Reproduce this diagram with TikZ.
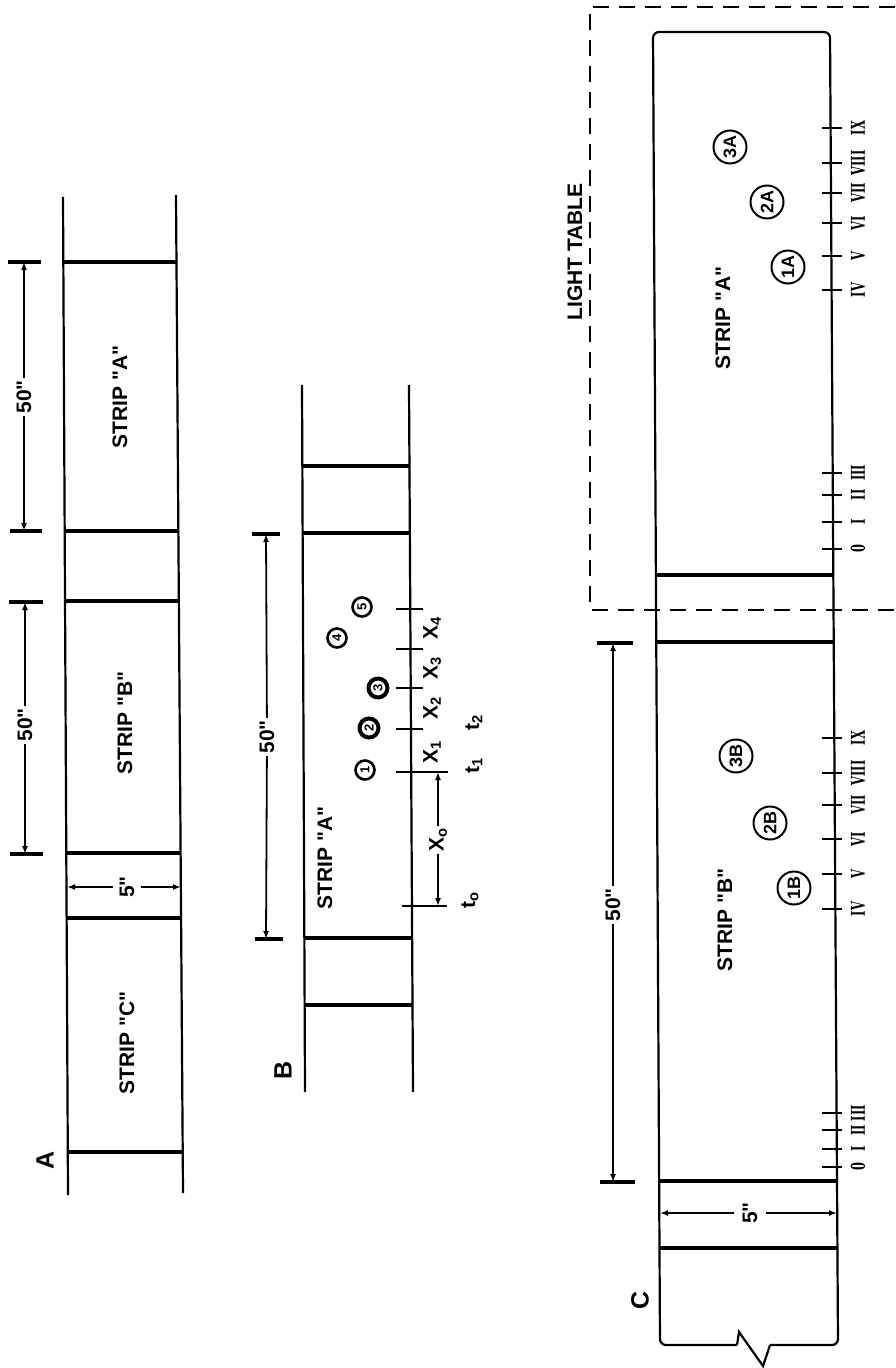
\documentclass[tikz,border=0pt]{standalone}
\usepackage{fontspec}
\newfontfamily\lblfont{Liberation Sans}
\newfontfamily\romfont{DejaVu Serif}
\usetikzlibrary{arrows.meta}
\tikzset{
  stripline/.style={line width=1.1pt},
  barline/.style={line width=1.8pt},
  dimline/.style={line width=0.9pt},
  dimtip/.style={dimline,-{Latex[length=4pt,width=3pt]}},
  tickline/.style={line width=1.2pt},
  dashbox/.style={line width=1.2pt, dash pattern=on 8pt off 5pt},
  rotlbl/.style={rotate=90, inner sep=1.5pt, font=\lblfont\bfseries\fontsize{10.5}{13}\selectfont},
  biglbl/.style={rotate=90, inner sep=1pt, font=\lblfont\bfseries\fontsize{12.5}{14}\selectfont},
  smalllbl/.style={rotate=90, inner sep=1pt, font=\lblfont\bfseries\fontsize{10.5}{12}\selectfont},
  circA/.style={draw, circle, line width=1pt, minimum size=16.5pt, inner sep=0pt, rotate=90,
     font=\lblfont\bfseries\fontsize{9}{10}\selectfont},
  circB/.style={draw, circle, line width=1.3pt, minimum size=9.5pt, inner sep=0pt, rotate=90,
     font=\lblfont\bfseries\fontsize{6.5}{8}\selectfont},
  romanlbl/.style={rotate=90, inner sep=0pt, font=\romfont\bfseries\fontsize{9.5}{10}\selectfont},
}
\begin{document}
\begin{tikzpicture}[x=0.5pt,y=-0.5pt]
\useasboundingbox (0,0) rectangle (895,1368);

% ================= A =================
\coordinate (aL1) at (63,197);  \coordinate (aL2) at (68,1195);
\coordinate (aR1) at (176,195); \coordinate (aR2) at (183,1193);
\draw[stripline] (aL1) -- (aL2);
\draw[stripline] (aR1) -- (aR2);
\foreach \y/\l/\r in {262/63.3/176.5, 531/64.7/178.4, 601/65.0/178.8, 853/66.3/180.6, 918/66.6/181.1, 1152/67.8/182.7}
  \draw[barline] (\l,\y) -- (\r,\y);

\node[rotlbl] (stA) at (120,397) {STRIP "A"};
\node[rotlbl] (stB) at (125,723) {STRIP "B"};
\node[rotlbl] (stC) at (127,1043) {STRIP "C"};
\node[biglbl] (labA) at (45,1160) {A};

% 50" dimensions
\coordinate (d1t) at (24,262); \coordinate (d1b) at (24,531);
\draw[barline] (8,262) -- (41,262);
\draw[barline] (10,531) -- (42,531);
\node[smalllbl] (d1) at (24,397) {50"};
\draw[dimtip] (d1) -- (d1t);
\draw[dimtip] (d1) -- (d1b);

\coordinate (d2t) at (25,602); \coordinate (d2b) at (25,854);
\draw[barline] (9,602) -- (43,602);
\draw[barline] (10,854) -- (43,854);
\node[smalllbl] (d2) at (25,725) {50"};
\draw[dimtip] (d2) -- (d2t);
\draw[dimtip] (d2) -- (d2b);

% 5" dimension
\coordinate (f1l) at (67,887); \coordinate (f1r) at (181,887);
\node[smalllbl, inner sep=3pt] (f1) at (127,887) {5"};
\draw[dimtip] (f1) -- (f1l);
\draw[dimtip] (f1) -- (f1r);

% ================= B =================
\coordinate (bL1) at (302,385); \coordinate (bL2) at (305,1092);
\coordinate (bR1) at (409,385); \coordinate (bR2) at (413,1092);
\draw[stripline] (bL1) -- (bL2);
\draw[stripline] (bR1) -- (bR2);
\foreach \y/\l/\r in {466/302.3/409.5, 533/302.6/409.8, 938/304.3/412.1, 1005/304.6/412.5}
  \draw[barline] (\l,\y) -- (\r,\y);

\node[rotlbl] (bstA) at (325,858) {STRIP "A"};
\node[biglbl] (labB) at (283,1070) {B};

% 50" dimension B
\coordinate (d3t) at (266,534); \coordinate (d3b) at (266,939);
\draw[barline] (252,534) -- (280,534);
\draw[barline] (255,939) -- (283,939);
\node[smalllbl] (d3) at (267,737) {50"};
\draw[dimtip] (d3) -- (d3t);
\draw[dimtip] (d3) -- (d3b);

% ticks
\foreach \y in {609,649,688,729}
  \draw[tickline] (396,\y) -- (423,\y);
\draw[tickline] (396,772) -- (448,772);
\draw[tickline] (402,906) -- (447,906);

% X0 dimension
\coordinate (x0t) at (438,772); \coordinate (x0b) at (438,906);
\node[smalllbl] (x0) at (438,840) {X\textsubscript{o}};
\draw[dimtip] (x0) -- (x0t);
\draw[dimtip] (x0) -- (x0b);

\node[smalllbl] (X1) at (432,752) {X\textsubscript{1}};
\node[smalllbl] (X2) at (432,708) {X\textsubscript{2}};
\node[smalllbl] (X3) at (432,668) {X\textsubscript{3}};
\node[smalllbl] (X4) at (432,628) {X\textsubscript{4}};
\node[smalllbl] (t1) at (474,765) {t\textsubscript{1}};
\node[smalllbl] (t2) at (474,722) {t\textsubscript{2}};
\node[smalllbl] (t0) at (470,900) {t\textsubscript{o}};

\node[circB] (c1) at (365,770) {1};
\node[circB, line width=2pt] (c2) at (369,728) {2};
\node[circB, line width=2pt] (c3) at (378,688) {3};
\node[circB] (c4) at (337,638) {4};
\node[circB] (c5) at (362,607) {5};

% ================= C =================
\draw[stripline, rounded corners=3pt]
  (737,1345) -- (660,1345) -- (653,32) -- (830,32) -- (838,1345) -- (770,1345);
\draw[stripline] (737,1345) -- (739,1332) -- (763,1366) -- (770,1345);
\foreach \y/\l/\r in {575/655.9/833.3, 642/656.3/833.7, 1181/659.1/837.0, 1248/659.5/837.4}
  \draw[barline] (\l,\y) -- (\r,\y);

% light table
\draw[dashbox] (895,7) -- (590,7) -- (590,610) -- (895,610);
\node[smalllbl] (lt) at (575,252) {LIGHT TABLE};

\node[rotlbl] (cstA) at (723,318) {STRIP "A"};
\node[rotlbl] (cstB) at (725,920) {STRIP "B"};
\node[biglbl] (labC) at (640,1300) {C};

% ticks and numerals
\foreach \y/\r in {128/IX,163/VIII,193/VII,223/VI,256/V,290/IV,473/III,495/II,522/I,549/0,
                   738/IX,773/VIII,805/VII,839/VI,874/V,909/IV,1113/III,1130/II,1149/I,1167/0}{
  \draw[tickline] (822,\y) -- (842,\y);
  \node[romanlbl] at (858,\y) {\scalebox{0.6}[1]{\r}};
}

\node[circA] (c3A) at (730,147) {3A};
\node[circA] (c2A) at (767,202) {2A};
\node[circA] (c1A) at (788,267) {1A};
\node[circA] (c3B) at (736,756) {3B};
\node[circA] (c2B) at (770,823) {2B};
\node[circA] (c1B) at (794,888) {1B};

% 50" dimension C
\coordinate (d4t) at (613,643); \coordinate (d4b) at (613,1182);
\draw[barline] (597,643) -- (633,643);
\draw[barline] (600,1182) -- (635,1182);
\node[smalllbl] (d4) at (613,905) {50"};
\draw[dimtip] (d4) -- (d4t);
\draw[dimtip] (d4) -- (d4b);

% 5" dimension C
\coordinate (f2l) at (660,1213); \coordinate (f2r) at (837,1213);
\node[smalllbl, inner sep=4pt] (f2) at (750,1213) {5"};
\draw[dimtip] (f2) -- (f2l);
\draw[dimtip] (f2) -- (f2r);
\end{tikzpicture}
\end{document}
